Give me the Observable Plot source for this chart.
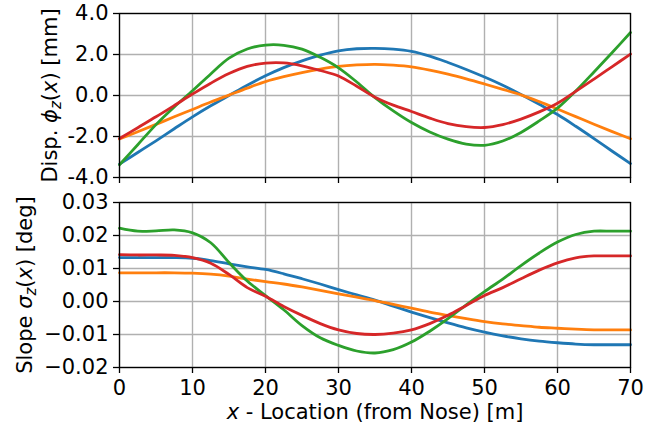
<!DOCTYPE html>
<html>
<head>
<meta charset="utf-8">
<script src="https://cdn.jsdelivr.net/npm/d3@7"></script>
<script src="https://cdn.jsdelivr.net/npm/@observablehq/plot@0.6"></script>
<style>
  html, body { margin: 0; padding: 0; background: white; }
  #chart { position: relative; width: 658px; height: 430px; overflow: hidden; }
  #chart svg { position: absolute; left: 0; overflow: visible; }
</style>
</head>
<body>
<div id="chart"></div>
<script>
// ---------- data ----------
const xs = [0, 2.5, 5, 7.5, 10, 12.5, 15, 17.5, 20, 22.5, 25, 27.5, 30, 32.5, 35,
            37.5, 40, 42.5, 45, 47.5, 50, 52.5, 55, 57.5, 60, 62.5, 65, 67.5, 70];

const seriesNames = ["blue", "orange", "green", "red"];
const seriesColors = ["#1f77b4", "#ff7f0e", "#2ca02c", "#d62728"];

// Displacement phi_z(x) [mm]
const dispBlue   = [-3.35, -2.78, -2.21, -1.62, -1.04, -0.50, 0.00, 0.50, 0.96, 1.36, 1.69, 1.97, 2.18, 2.28, 2.30,
                    2.26, 2.15, 1.92, 1.61, 1.27, 0.90, 0.50, 0.05, -0.43, -0.93, -1.50, -2.10, -2.72, -3.32];
const dispOrange = [-2.12, -1.77, -1.41, -1.04, -0.68, -0.32, 0.02, 0.36, 0.68, 0.92, 1.12, 1.29, 1.42, 1.49, 1.52,
                    1.48, 1.40, 1.24, 1.04, 0.81, 0.56, 0.30, 0.03, -0.30, -0.66, -1.03, -1.40, -1.76, -2.11];
const dispGreen  = [-3.38, -2.40, -1.42, -0.56, 0.23, 1.05, 1.82, 2.27, 2.46, 2.45, 2.26, 1.86, 1.35, 0.66, -0.10,
                    -0.75, -1.32, -1.78, -2.13, -2.37, -2.43, -2.22, -1.80, -1.24, -0.62, 0.22, 1.15, 2.10, 3.07];
const dispRed    = [-2.10, -1.57, -1.04, -0.49, 0.07, 0.60, 1.07, 1.42, 1.58, 1.59, 1.45, 1.22, 0.95, 0.45, -0.08,
                    -0.47, -0.78, -1.10, -1.37, -1.52, -1.56, -1.42, -1.15, -0.80, -0.38, 0.20, 0.80, 1.41, 2.02];

// Slope sigma_z(x) [deg]
const slopeBlue   = [0.0133, 0.0133, 0.0133, 0.0133, 0.0131, 0.0124, 0.0114, 0.0105, 0.0097, 0.0084, 0.0069, 0.0053, 0.0036, 0.0020, 0.0004,
                     -0.0014, -0.0032, -0.0049, -0.0065, -0.0080, -0.0093, -0.0104, -0.0113, -0.0120, -0.0125, -0.0129, -0.0131, -0.0131, -0.0131];
const slopeOrange = [0.0087, 0.0087, 0.0087, 0.0087, 0.0086, 0.0083, 0.0077, 0.0068, 0.0060, 0.0053, 0.0044, 0.0034, 0.0023, 0.0013, 0.0003,
                     -0.0009, -0.0020, -0.0032, -0.0042, -0.0052, -0.0061, -0.0068, -0.0073, -0.0078, -0.0081, -0.0084, -0.0086, -0.0086, -0.0086];
const slopeGreen  = [0.0222, 0.0213, 0.0214, 0.0217, 0.0208, 0.0178, 0.0118, 0.0062, 0.0018, -0.0025, -0.0073, -0.0110, -0.0133, -0.0150, -0.0156,
                     -0.0146, -0.0123, -0.0090, -0.0052, -0.0010, 0.0030, 0.0068, 0.0109, 0.0147, 0.0180, 0.0203, 0.0213, 0.0213, 0.0213];
const slopeRed    = [0.0142, 0.0141, 0.0141, 0.0140, 0.0133, 0.0116, 0.0082, 0.0042, 0.0016, -0.0015, -0.0042, -0.0067, -0.0086, -0.0097, -0.0100,
                     -0.0096, -0.0086, -0.0067, -0.0042, -0.0012, 0.0018, 0.0042, 0.0069, 0.0095, 0.0117, 0.0132, 0.0138, 0.0138, 0.0138];

const xTicks = [0, 10, 20, 30, 40, 50, 60, 70];
const dispTicks = [-4, -2, 0, 2, 4];
const slopeTicks = [-0.02, -0.01, 0, 0.01, 0.02, 0.03];

const dispLabel = "Disp. ϕz(x) [mm]";
const slopeLabel = "Slope σz(x) [deg]";
const xLabel = "x - Location (from Nose) [m]";

// ---------- build ----------
const dispSeries = [dispBlue, dispOrange, dispGreen, dispRed];
const slopeSeries = [slopeBlue, slopeOrange, slopeGreen, slopeRed];
const toRows = (arr) => xs.map((x, i) => ({x, v: arr[i]}));

const FS = 21;
const gridStyle = {stroke: "#b0b0b0", strokeOpacity: 1, strokeWidth: 1.4};
const lineMarks = (series) => series.map((arr, k) =>
  Plot.line(toRows(arr), {x: "x", y: "v", stroke: seriesColors[k], strokeWidth: 2.8, curve: "catmull-rom"}));

const baseStyle = {fontFamily: "DejaVu Sans", fontSize: FS + "px", color: "black", background: "transparent", overflow: "visible"};

const topPlot = Plot.plot({
  width: 658, height: 190,
  marginLeft: 119, marginRight: 28, marginTop: 13, marginBottom: 13,
  style: baseStyle,
  x: {domain: [0, 70]},
  y: {domain: [-4, 4]},
  marks: [
    Plot.gridX(xTicks, gridStyle),
    Plot.gridY(dispTicks, gridStyle),
    ...lineMarks(dispSeries),
    Plot.frame({stroke: "black", strokeWidth: 1.3}),
    Plot.axisX(xTicks, {tickSize: 6, strokeWidth: 1.3, tickFormat: () => "", label: null}),
    Plot.axisY(dispTicks, {tickSize: 6, tickPadding: 5, strokeWidth: 1.3, tickFormat: d => d.toFixed(1), label: null, fontSize: FS}),
    Plot.text([dispLabel], {frameAnchor: "left", dx: -69, rotate: -90, fontSize: FS, textAnchor: "middle", lineAnchor: "middle", fill: "black"})
  ]
});

const bottomPlot = Plot.plot({
  width: 658, height: 240,
  marginLeft: 119, marginRight: 28, marginTop: 12, marginBottom: 63,
  style: baseStyle,
  x: {domain: [0, 70]},
  y: {domain: [-0.02, 0.03]},
  marks: [
    Plot.gridX(xTicks, gridStyle),
    Plot.gridY(slopeTicks, gridStyle),
    ...lineMarks(slopeSeries),
    Plot.frame({stroke: "black", strokeWidth: 1.3}),
    Plot.axisX(xTicks, {tickSize: 6, tickPadding: 7, strokeWidth: 1.3, tickFormat: d => String(d), label: null, fontSize: FS}),
    Plot.axisY(slopeTicks, {tickSize: 6, tickPadding: 5, strokeWidth: 1.3, tickFormat: d3.format(".2f"), label: null, fontSize: FS}),
    Plot.text([slopeLabel], {frameAnchor: "left", dx: -94, rotate: -90, fontSize: FS, textAnchor: "middle", lineAnchor: "middle", fill: "black"}),
    Plot.text([xLabel], {frameAnchor: "bottom", dy: 45, fontSize: FS, textAnchor: "middle", lineAnchor: "middle", fill: "black"})
  ]
});

topPlot.style.top = "0px";
bottomPlot.style.top = "190px";
const chart = document.getElementById("chart");
chart.appendChild(topPlot);
chart.appendChild(bottomPlot);

function rich(svg, plain, html) {
  d3.select(svg).selectAll("text").filter(function () { return this.textContent === plain; }).html(html);
}
rich(topPlot, dispLabel,
  'Disp. <tspan font-style="italic">ϕ</tspan><tspan font-style="italic" font-size="15" dy="4">z</tspan><tspan dy="-4">(</tspan><tspan font-style="italic">x</tspan>) [mm]');
rich(bottomPlot, slopeLabel,
  'Slope <tspan font-style="italic">σ</tspan><tspan font-style="italic" font-size="15" dy="4">z</tspan><tspan dy="-4">(</tspan><tspan font-style="italic">x</tspan>) [deg]');
rich(bottomPlot, xLabel,
  '<tspan font-style="italic">x</tspan> - Location (from Nose) [m]');
</script>
</body>
</html>
